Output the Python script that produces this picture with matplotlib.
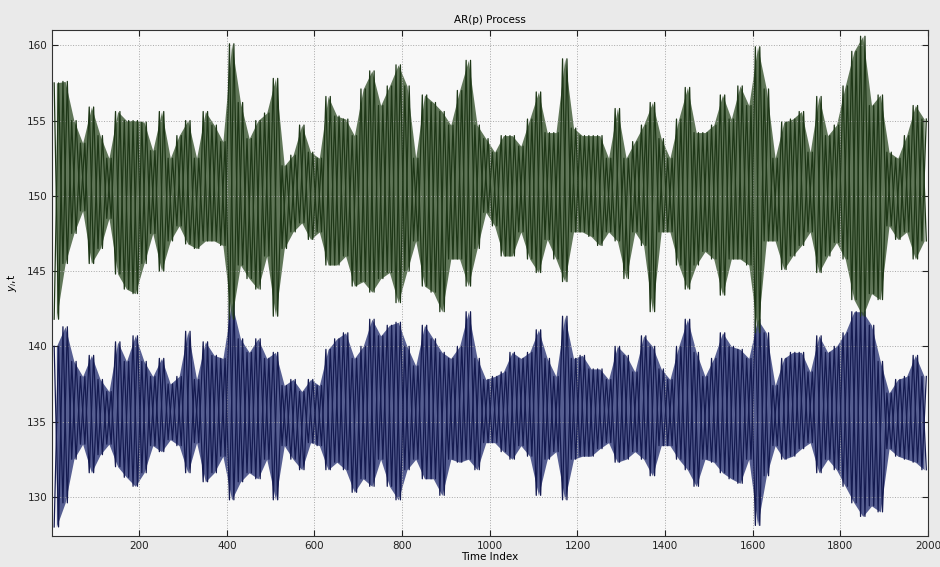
import numpy as np
import matplotlib
matplotlib.use("Agg")
import matplotlib.pyplot as plt

# envelope: max / min of each block of 20 time steps
block = 20

green_hi = [157.5, 157.6, 155.0, 153.5, 155.9, 154.0, 152.5, 155.6, 155.0, 155.0,
            154.9, 153.0, 155.6, 152.5, 154.0, 155.0, 152.5, 155.6, 154.7, 153.6,
            160.1, 156.2, 153.8, 155.0, 155.5, 157.8, 152.0, 152.7, 154.7, 152.9,
            152.5, 156.6, 155.3, 155.1, 154.0, 157.1, 158.3, 156.0, 157.3, 158.7,
            157.3, 152.5, 156.7, 156.2, 155.6, 154.7, 157.0, 159.0, 154.7, 153.8,
            152.9, 154.0, 154.0, 153.3, 155.1, 156.9, 154.2, 154.2, 159.1, 154.5,
            154.0, 154.0, 154.0, 152.5, 155.8, 152.5, 153.6, 154.7, 156.2, 153.8,
            152.5, 155.1, 157.2, 154.2, 154.2, 154.7, 156.7, 155.1, 157.3, 156.0,
            159.9, 157.1, 152.5, 154.9, 155.1, 155.6, 152.9, 156.6, 154.0, 154.7,
            157.3, 159.6, 160.6, 156.0, 156.7, 152.9, 152.5, 154.0, 156.0, 155.1]
green_lo = [141.8, 145.5, 147.5, 149.0, 145.5, 146.5, 148.5, 144.8, 143.8, 143.5,
            145.5, 147.5, 145.0, 147.0, 148.0, 146.8, 146.5, 147.0, 147.0, 146.7,
            141.8, 145.4, 144.5, 143.8, 146.0, 142.0, 146.5, 147.6, 148.2, 147.1,
            147.6, 145.4, 145.4, 146.0, 144.0, 144.3, 143.6, 144.5, 144.9, 142.9,
            145.0, 147.0, 144.0, 143.6, 142.3, 145.8, 145.8, 144.0, 146.5, 148.9,
            148.0, 146.0, 146.0, 147.6, 145.8, 144.9, 147.1, 145.8, 144.3, 147.6,
            147.6, 147.3, 146.7, 147.6, 147.0, 144.5, 147.6, 146.7, 142.3, 147.6,
            147.6, 145.4, 143.8, 145.4, 146.3, 145.8, 143.4, 145.8, 145.8, 145.4,
            140.9, 147.0, 147.0, 145.1, 146.0, 146.7, 147.6, 144.9, 146.0, 146.9,
            145.8, 143.1, 142.0, 143.5, 143.1, 148.0, 147.1, 147.6, 145.8, 147.0]

blue_hi = [140.0, 141.3, 139.0, 138.0, 139.4, 137.8, 137.0, 140.3, 139.0, 140.7,
           139.0, 138.0, 139.2, 137.5, 138.0, 141.0, 137.8, 140.3, 139.4, 139.2,
           142.9, 140.5, 139.6, 140.5, 139.2, 139.6, 137.4, 137.8, 137.0, 137.8,
           137.4, 139.8, 140.5, 140.9, 139.2, 140.0, 141.8, 140.7, 141.4, 141.6,
           140.0, 138.7, 141.4, 140.5, 139.6, 139.2, 140.0, 142.3, 139.2, 137.8,
           138.0, 138.3, 139.6, 139.2, 139.6, 141.1, 139.2, 138.0, 142.0, 139.2,
           139.4, 138.5, 138.5, 137.8, 140.0, 139.4, 138.3, 140.7, 140.0, 138.5,
           137.8, 140.0, 141.8, 139.6, 138.0, 139.2, 140.9, 140.0, 139.8, 139.2,
           141.8, 140.9, 137.4, 139.2, 139.6, 139.6, 138.3, 140.7, 139.6, 140.0,
           140.9, 142.3, 142.3, 141.4, 139.0, 136.9, 137.8, 138.0, 139.4, 138.0]
blue_lo = [128.0, 129.6, 132.5, 133.5, 131.6, 132.8, 133.5, 132.0, 131.3, 130.7,
           131.6, 133.4, 133.0, 133.8, 133.4, 131.6, 133.6, 131.0, 131.6, 132.7,
           129.8, 131.0, 131.6, 131.2, 132.5, 129.8, 133.4, 132.5, 131.8, 133.6,
           133.4, 131.8, 132.3, 131.8, 130.3, 131.2, 130.7, 132.5, 130.7, 129.8,
           131.8, 132.5, 131.2, 131.2, 130.1, 132.5, 132.3, 132.5, 131.8, 133.6,
           133.6, 133.0, 132.5, 133.4, 132.7, 130.1, 132.5, 133.0, 129.8, 132.5,
           132.7, 132.7, 133.2, 133.6, 132.3, 132.5, 133.0, 132.5, 131.4, 133.4,
           133.4, 132.5, 131.8, 130.7, 132.5, 132.3, 131.6, 131.2, 130.9, 132.5,
           128.1, 131.4, 133.4, 132.5, 132.7, 133.2, 133.6, 131.6, 132.5, 131.8,
           130.7, 129.6, 128.7, 129.4, 129.0, 133.2, 132.7, 132.5, 132.3, 131.8]

x_ticks = [200, 400, 600, 800, 1000, 1200, 1400, 1600, 1800, 2000]
y_ticks = [130, 135, 140, 145, 150, 155, 160]


def draw_series(ax, hi, lo, dark, fill):
    start = np.arange(len(hi)) * block
    mid = start + 11
    ax.fill_between(mid, lo, hi, color=fill, alpha=0.8, linewidth=0)
    # two strokes per block, in opposite order, so the band reads as a dense trace
    xa = np.column_stack([start + 6, start + 16]).ravel()
    ya = np.column_stack([hi, lo]).ravel()
    yb = np.column_stack([lo, hi]).ravel()
    ax.plot(xa, ya, color=dark, linewidth=0.9)
    ax.plot(xa, yb, color=dark, linewidth=0.9)


fig = plt.figure(figsize=(9.4, 5.67), dpi=100, facecolor="#eaeaea")
ax = fig.add_axes([0.0553, 0.0547, 0.932, 0.892])
ax.set_facecolor("#f8f8f8")

draw_series(ax, blue_hi, blue_lo, "#141a50", "#2e3878")
draw_series(ax, green_hi, green_lo, "#1e3717", "#3a5630")

ax.set_xlim(1, 2000)
ax.set_ylim(127.4, 161)
ax.set_xticks(x_ticks)
ax.set_yticks(y_ticks)
ax.grid(True, linestyle=":", color="#a8a8a8", linewidth=0.7)
ax.tick_params(direction="in", top=True, right=True, length=4,
               labelsize=7.5, colors="#222222")
for s in ax.spines.values():
    s.set_color("#333333")
    s.set_linewidth(0.8)

ax.set_title("AR(p) Process", fontsize=7.5, pad=5)
ax.set_xlabel("Time Index", fontsize=7.5, labelpad=1)
ax.set_ylabel(r"$y_i$,t", fontsize=7.5, labelpad=6)

fig.savefig("out.png", dpi=100, facecolor=fig.get_facecolor())
